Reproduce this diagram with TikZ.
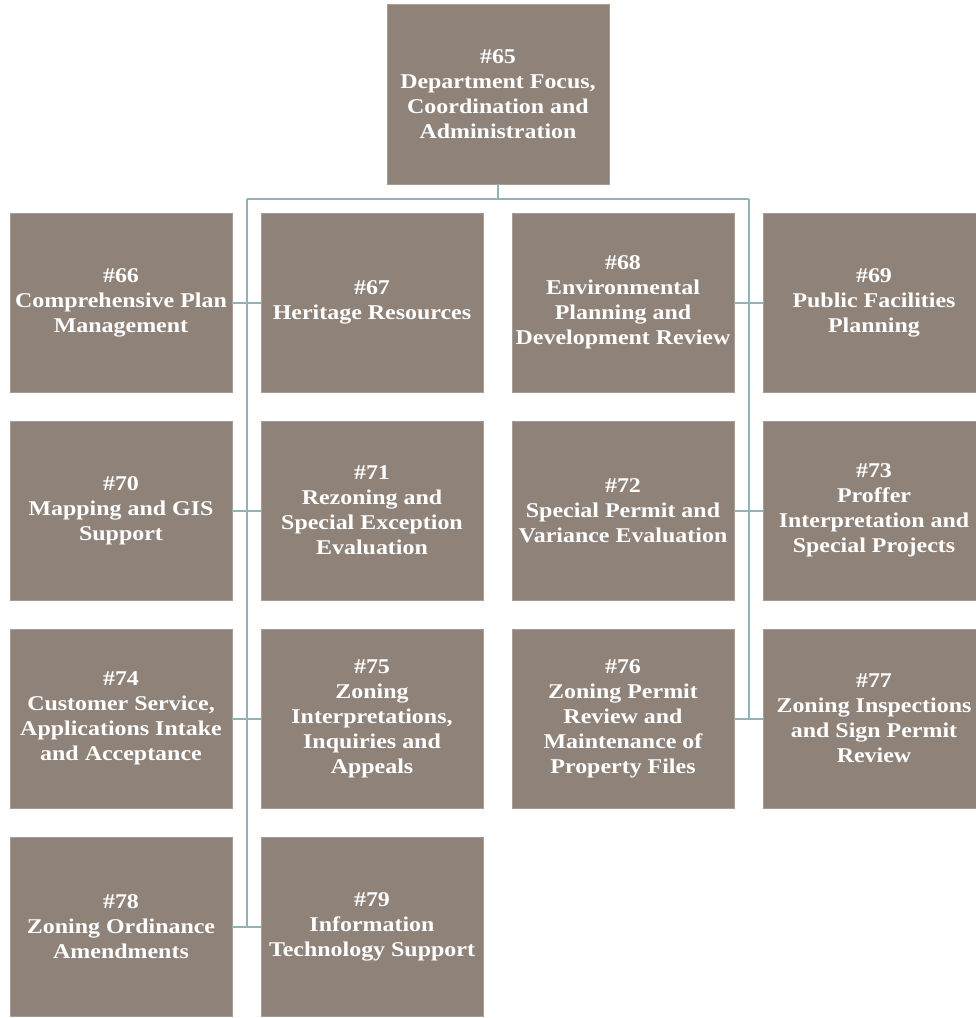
\documentclass[tikz,border=0pt]{standalone}
\usepackage{fontspec}
\setmainfont[FakeStretch=1.14]{Liberation Serif}
\usepackage{tikz}
\usetikzlibrary{positioning, calc}
\definecolor{boxfill}{RGB}{143,130,121}
\definecolor{boxedge}{RGB}{168,157,149}
\definecolor{linkcol}{RGB}{141,180,183}
\tikzstyle{unit} = [rectangle, minimum width=222pt, minimum height=179pt, align=center, draw=boxedge, line width=0.8pt, fill=boxfill, text=white, font=\fontsize{21}{25}\selectfont\bfseries, inner sep=0pt, outer sep=0pt]
\tikzstyle{link} = [linkcol, line width=2pt]

\begin{document}
\begin{tikzpicture}[x=1pt, y=1pt, node distance=29pt and 29pt]
            \useasboundingbox (0,0) rectangle (976,-1018);
            \node (n65) [unit, minimum height=180pt] at (498,-94) {\#65\\Department Focus,\\Coordination and\\Administration};
            \node (n66) [unit] at (121,-302.5) {\#66\\Comprehensive Plan\\Management};
            \node (n67) [unit, right=of n66] {\#67\\Heritage Resources};
            \node (n68) [unit, right=of n67] {\#68\\Environmental\\Planning and\\Development Review};
            \node (n69) [unit, right=of n68] {\#69\\Public Facilities\\Planning};
            \node (n70) [unit, below=of n66] {\#70\\Mapping and GIS\\Support};
            \node (n71) [unit, right=of n70] {\#71\\Rezoning and\\Special Exception\\Evaluation};
            \node (n72) [unit, right=of n71] {\#72\\Special Permit and\\Variance Evaluation};
            \node (n73) [unit, right=of n72] {\#73\\Proffer\\Interpretation and\\Special Projects};
            \node (n74) [unit, below=of n70] {\#74\\Customer Service,\\Applications Intake\\and Acceptance};
            \node (n75) [unit, right=of n74] {\#75\\Zoning\\Interpretations,\\Inquiries and\\Appeals};
            \node (n76) [unit, right=of n75] {\#76\\Zoning Permit\\Review and\\Maintenance of\\Property Files};
            \node (n77) [unit, right=of n76] {\#77\\Zoning Inspections\\and Sign Permit\\Review};
            \node (n78) [unit, below=of n74] {\#78\\Zoning Ordinance\\Amendments};
            \node (n79) [unit, right=of n78] {\#79\\Information\\Technology Support};

            \coordinate (busL) at ($(n66.north east)!0.5!(n67.north west)+(0,14)$);
            \coordinate (busR) at ($(n68.north east)!0.5!(n69.north west)+(0,14)$);
            \coordinate (endL) at ($(n78.east)!0.5!(n79.west)$);
            \coordinate (endR) at ($(n76.east)!0.5!(n77.west)$);

            \draw [link] (n65.south) -- (n65.south |- busL);
            \draw [link] (busL) -- (busR);
            \draw [link] (busL) -- (endL);
            \draw [link] (busR) -- (endR);
            \draw [link] (n66) -- (n67);
            \draw [link] (n70) -- (n71);
            \draw [link] (n74) -- (n75);
            \draw [link] (n78) -- (n79);
            \draw [link] (n68) -- (n69);
            \draw [link] (n72) -- (n73);
            \draw [link] (n76) -- (n77);
        \end{tikzpicture}
\end{document}
